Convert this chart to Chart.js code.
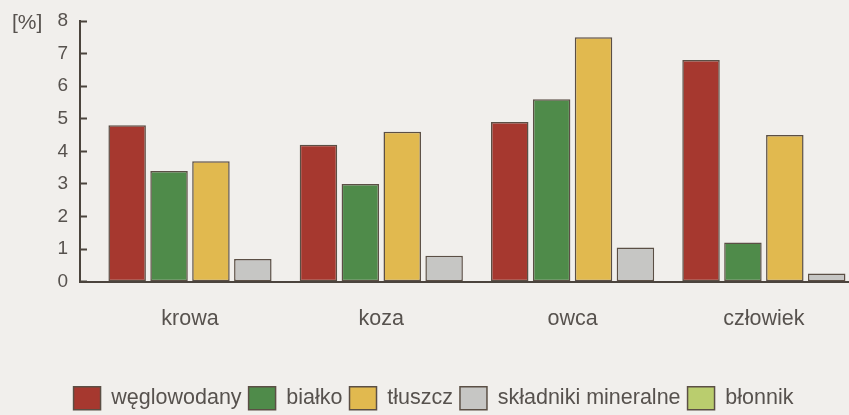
<!DOCTYPE html>
<html lang="pl">
<head>
<meta charset="utf-8">
<title>Skład mleka</title>
<script src="https://cdn.jsdelivr.net/npm/chart.js@4.4.1/dist/chart.umd.min.js"></script>
<style>
  html, body { margin: 0; padding: 0; background: #f1efec; overflow: hidden; }
  #wrap { position: relative; width: 849px; height: 415px; }
</style>
</head>
<body>
<div id="wrap"><canvas id="c" width="849" height="415"></canvas></div>
<script>
// Mleko: skład procentowy
const categories = ['krowa', 'koza', 'owca', 'człowiek'];
const weglowodany = [4.8, 4.2, 4.9, 6.8];
const bialko = [3.4, 3.0, 5.6, 1.2];
const tluszcz = [3.7, 4.6, 7.5, 4.5];
const skladnikiMineralne = [0.7, 0.8, 1.05, 0.25];
const blonnik = [null, null, null, null];
const yTicks = [0, 1, 2, 3, 4, 5, 6, 7, 8];
const yUnit = '[%]';

const FONT = "'Liberation Sans', Arial, sans-serif";
const TEXT = '#57524e';
const AXIS = '#4b443d';
const EDGE = '#5b4f45';

const series = [
  { label: 'węglowodany', data: weglowodany, color: '#a6382f' },
  { label: 'białko', data: bialko, color: '#4f8b4a' },
  { label: 'tłuszcz', data: tluszcz, color: '#e1b94f' },
  { label: 'składniki mineralne', data: skladnikiMineralne, color: '#c6c6c4' },
  { label: 'błonnik', data: blonnik, color: '#bacd6e' }
];

// "[%]" unit label beside the top tick
const unitLabel = {
  id: 'unitLabel',
  afterDraw(chart) {
    const y = chart.scales.y.getPixelForValue(yTicks[yTicks.length - 1]);
    const ctx = chart.ctx;
    ctx.save();
    ctx.font = '21px ' + FONT;
    ctx.fillStyle = TEXT;
    ctx.textAlign = 'left';
    ctx.textBaseline = 'middle';
    ctx.fillText(yUnit, 12, y + 2);
    ctx.restore();
  }
};

new Chart(document.getElementById('c'), {
  type: 'bar',
  data: {
    labels: categories.map((_, i) => i),
    datasets: series.map(s => ({
      label: s.label,
      data: s.data,
      backgroundColor: s.color,
      borderColor: EDGE,
      borderWidth: 1.5,
      borderSkipped: false,
      categoryPercentage: 0.876,
      barPercentage: 0.895,
      skipNull: true
    }))
  },
  options: {
    responsive: false,
    animation: false,
    devicePixelRatio: 1,
    layout: { padding: { left: 18, right: 0, top: 21, bottom: -4.7 } },
    plugins: {
      tooltip: { enabled: false },
      legend: {
        position: 'bottom',
        align: 'center',
        labels: {
          boxWidth: 27,
          boxHeight: 23,
          padding: 7,
          color: TEXT,
          font: { family: FONT, size: 21.5 }
        }
      }
    },
    scales: {
      x: {
        type: 'linear',
        min: -0.575,
        max: 3.445,
        offset: false,
        grid: { display: false, offset: false, drawTicks: false },
        border: { display: true, color: AXIS, width: 2 },
        ticks: {
          stepSize: 1,
          includeBounds: false,
          autoSkip: false,
          maxRotation: 0,
          padding: 24,
          color: TEXT,
          font: { family: FONT, size: 21.5 },
          callback: (v) => (Number.isInteger(v) && categories[v] !== undefined) ? categories[v] : ''
        },
        afterFit: (scale) => {
          scale.height = 98;
          scale.paddingLeft = 0;
          scale.paddingRight = 0;
        }
      },
      y: {
        min: yTicks[0],
        max: yTicks[yTicks.length - 1],
        grid: {
          drawOnChartArea: false,
          drawTicks: true,
          tickLength: -7,
          tickWidth: 2,
          tickColor: AXIS
        },
        border: { display: true, color: AXIS, width: 2 },
        ticks: {
          stepSize: 1,
          autoSkip: false,
          padding: 19,
          color: TEXT,
          font: { family: FONT, size: 19 }
        },
        afterFit: (scale) => {
          scale.width = 62;
          scale.paddingTop = 0;
          scale.paddingBottom = 0;
        }
      }
    }
  },
  plugins: [unitLabel]
});
</script>
</body>
</html>
